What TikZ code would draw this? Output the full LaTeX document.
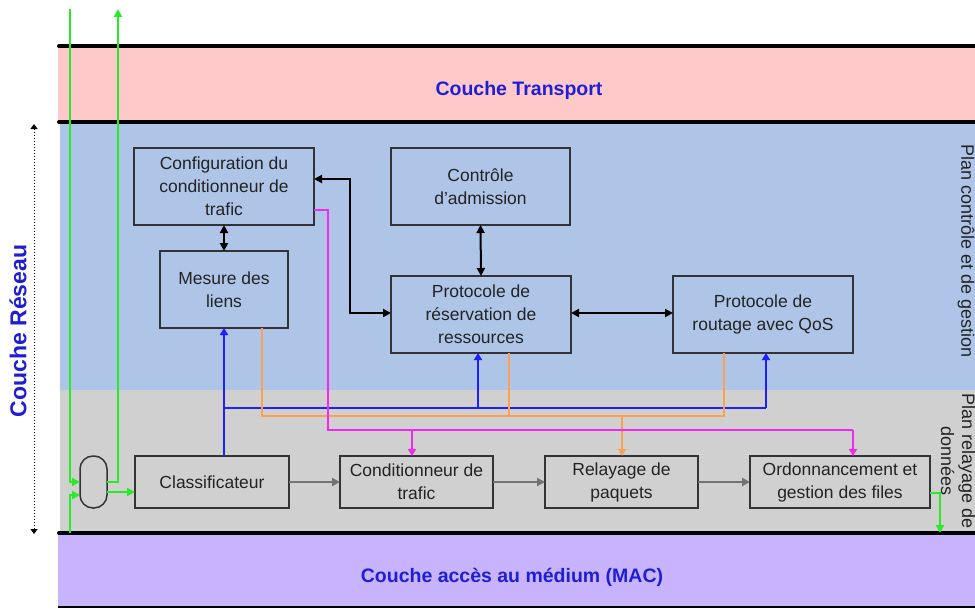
\documentclass[tikz,border=0pt]{standalone}
\usepackage{fontspec}
\setmainfont{Liberation Sans}
\usetikzlibrary{arrows.meta,calc}
\definecolor{pinkband}{RGB}{255,201,201}
\definecolor{blueband}{RGB}{174,197,232}
\definecolor{greyband}{RGB}{208,208,208}
\definecolor{purpband}{RGB}{200,179,255}
\definecolor{titleblue}{RGB}{30,30,215}
\definecolor{boxline}{RGB}{50,50,55}
\definecolor{greyarrow}{RGB}{115,115,115}
\definecolor{myblue}{RGB}{30,30,255}
\definecolor{myorange}{RGB}{250,160,80}
\definecolor{mymagenta}{RGB}{240,40,240}
\definecolor{mygreen}{RGB}{40,235,40}
\definecolor{txt}{RGB}{35,35,35}
\tikzset{
  box/.style={draw=boxline,line width=1.5pt,inner sep=0pt,outer sep=0pt,align=center,
    text=txt,font=\fontsize{17.5}{23}\selectfont},
  title/.style={text=titleblue,font=\bfseries\fontsize{19.5}{23}\selectfont},
  plan/.style={text=txt,font=\fontsize{18}{21}\selectfont,align=center,rotate=-90},
  blk/.style={draw=black,line width=2pt,{Triangle[length=8pt,width=8pt]}-{Triangle[length=8pt,width=8pt]}},
  gar/.style={draw=greyarrow,line width=2pt,-{Triangle[length=8pt,width=8pt]}},
  bluarr/.style={draw=myblue,line width=2pt,-{Triangle[length=7pt,width=8pt]}},
  blu/.style={draw=myblue,line width=2pt},
  ora/.style={draw=myorange,line width=2pt},
  oraarr/.style={draw=myorange,line width=2pt,-{Triangle[length=7pt,width=8pt]}},
  mag/.style={draw=mymagenta,line width=2pt},
  magarr/.style={draw=mymagenta,line width=2pt,-{Triangle[length=7pt,width=8pt]}},
  grn/.style={draw=mygreen,line width=2pt},
  grnarr/.style={draw=mygreen,line width=2pt,-{Triangle[length=8pt,width=8pt]}},
  sep/.style={draw=black,line width=4pt,line cap=round},
}
\begin{document}
\begin{tikzpicture}[x=1pt,y=-1pt]
\useasboundingbox (0,0) rectangle (975,610);
% bands
\fill[pinkband] (58,46) rectangle (975,122);
\fill[blueband] (60,122) rectangle (975,390);
\fill[greyband] (60,390) rectangle (975,533);
\fill[purpband] (58,533) rectangle (975,607);
\draw[black,line width=1.5pt] (58,607) -- (975,607);
\draw[sep] (59,46) -- (980,46);
\draw[sep] (59,122) -- (980,122);
\draw[sep] (59,533) -- (980,533);
% titles
\node[title] (ttrans) at (519,90) {Couche Transport};
\node[title] (tmac) at (512,577) {Couche accès au médium (MAC)};
\node[title,rotate=90,font=\bfseries\fontsize{23}{26}\selectfont] (tres) at (18,331) {Couche Réseau};
\coordinate (dtop) at (34,124);
\coordinate (dbot) at (34,534);
\draw[black,line width=1pt,dotted,{Triangle[length=5pt,width=7pt]}-{Triangle[length=5pt,width=7pt]}] (dtop) -- (dbot);
\node[plan,anchor=west] (pctl) at (966,141) {Plan contrôle et de gestion};
\node[plan,anchor=west] (prel) at (958,390) {Plan relayage de\\données};
% control plane boxes
\node[box,minimum width=180pt,minimum height=77pt] (cfg) at (224,186.5) {Configuration du\\conditionneur de\\trafic};
\node[box,minimum width=128pt,minimum height=77pt] (mes) at (224,289.5) {Mesure des\\liens};
\node[box,minimum width=179pt,minimum height=77pt] (ctl) at (480.5,186.5) {Contrôle\\d'admission};
\node[box,minimum width=180pt,minimum height=77pt] (prs) at (481,314.5) {Protocole de\\réservation de\\ressources};
\node[box,minimum width=180pt,minimum height=77pt] (rout) at (763,314.5) {Protocole de\\routage avec QoS};
% data plane boxes
\node[box,minimum width=154pt,minimum height=52pt] (cls) at (212,482) {Classificateur};
\node[box,minimum width=153pt,minimum height=52pt] (cond) at (416.5,482) {Conditionneur de\\trafic};
\node[box,minimum width=153pt,minimum height=52pt] (rel) at (621.5,482) {Relayage de\\paquets};
\node[box,minimum width=180pt,minimum height=52pt] (ord) at (840,482) {Ordonnancement et\\gestion des files};
\node[draw=boxline,line width=1.5pt,inner sep=0pt,outer sep=0pt,minimum width=27pt,minimum height=52pt,rounded corners=13pt] (oval) at (93.5,482) {};
% black arrows
\draw[blk] (cfg.south) -- (mes.north);
\draw[blk] (ctl.south) -- (prs.north);
\draw[blk] ([yshift=7.5pt]cfg.east) -- ++(36,0) |- ([yshift=1.5pt]prs.west);
\draw[blk] ([yshift=1.5pt]prs.east) -- ([yshift=1.5pt]rout.west);
% grey arrows
\draw[gar] (cls.east) -- (cond.west);
\draw[gar] (cond.east) -- (rel.west);
\draw[gar] (rel.east) -- (ord.west);
% blue
\coordinate (bl) at (222,408);
\draw[bluarr] (mes.south |- cls.north) -- (mes.south);
\draw[blu] (mes.south |- bl) -- ($(rout.south |- bl)+(3,0)$);
\draw[bluarr] ($(prs.south |- bl)+(-3,0)$) -- ([xshift=-3pt]prs.south);
\draw[bluarr] ($(rout.south |- bl)+(3,0)$) -- ([xshift=3pt]rout.south);
% orange
\coordinate (ol) at (262,416);
\draw[ora] ([xshift=38pt]mes.south) -- ($(mes.south |- ol)+(38,0)$) -- ($(rout.south |- ol)+(-39,0)$) -- ([xshift=-39pt]rout.south);
\draw[ora] ([xshift=28pt]prs.south) -- ($(prs.south |- ol)+(28,0)$);
\draw[oraarr] ($(rel.north |- ol)+(0.5,0)$) -- ([xshift=0.5pt]rel.north);
% magenta
\coordinate (ml) at (328,430);
\draw[mag] ([yshift=-23.5pt]cfg.east) -| (ml) -- ($(ord.north |- ml)+(13,0)$);
\draw[magarr] ($(ord.north |- ml)+(13,0)$) -- ([xshift=13pt]ord.north);
\draw[magarr] ($(cond.north |- ml)+(-4.5,0)$) -- ([xshift=-4.5pt]cond.north);
% green
\coordinate (g1) at (70,9);
\coordinate (g2) at (70,533);
\coordinate (g3) at (118,9);
\coordinate (g4) at (940,533);
\draw[grnarr] (g1) |- (oval.west);
\draw[grnarr] (g2) |- ([yshift=-13pt]oval.west);
\draw[grnarr] (oval.east) -| (g3);
\draw[grnarr] ([yshift=-10pt]oval.east) -- ([yshift=-10pt]cls.west);
\draw[grnarr] ([yshift=-11pt]ord.east) -| (g4);
\end{tikzpicture}
\end{document}
